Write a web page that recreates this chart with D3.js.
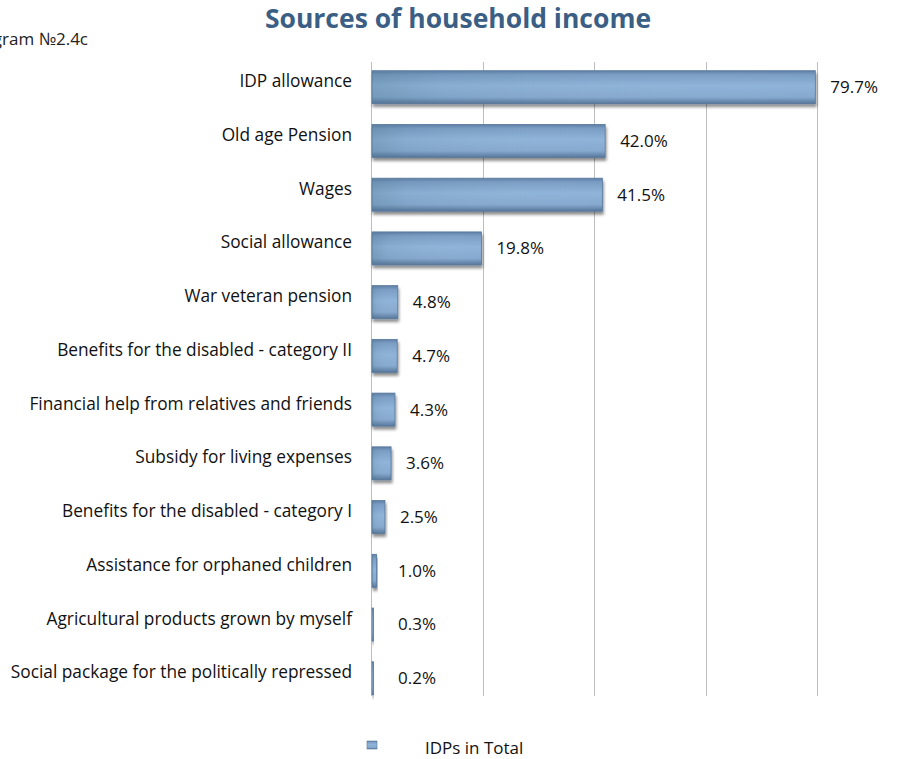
<!DOCTYPE html>
<html>
<head>
<meta charset="utf-8">
<script src="https://cdn.jsdelivr.net/npm/d3@7"></script>
<style>
  html, body { margin: 0; padding: 0; background: #fff; }
  svg { display: block; }
  text { font-family: "Open Sans", "Noto Sans", sans-serif; }
</style>
</head>
<body>
<svg id="chart" width="921" height="759"></svg>
<script>
// Sources of household income, share of IDP households (%)
const categories = [
  "IDP allowance",
  "Old age Pension",
  "Wages",
  "Social allowance",
  "War veteran pension",
  "Benefits for the disabled - category II",
  "Financial help from relatives and friends",
  "Subsidy for living expenses",
  "Benefits for the disabled - category I",
  "Assistance for orphaned children",
  "Agricultural products grown by myself",
  "Social package for the politically repressed"
];
const values = [79.7, 42.0, 41.5, 19.8, 4.8, 4.7, 4.3, 3.6, 2.5, 1.0, 0.3, 0.2];
const xTicks = [0, 20, 40, 60, 80];
const seriesName = "IDPs in Total";
const chartTitle = "Sources of household income";
const diagramTag = "Diagram №2.4c";

const svg = d3.select("#chart");
const plot = { left: 371, right: 817, top: 60.5, bottom: 705 };

const x = d3.scaleLinear().domain([0, 80]).range([plot.left, plot.right]);
const y = d3.scaleBand().domain(categories).range([plot.top, plot.bottom]).paddingInner(0.385).paddingOuter(0.19);

// Definitions: bar gradient, left-edge shading and soft shadow
const defs = svg.append("defs");
const grad = defs.append("linearGradient").attr("id", "barGrad").attr("x1", 0).attr("y1", 0).attr("x2", 0).attr("y2", 1);
[["0%", "#5d7ea4"], ["12%", "#7a9dc4"], ["45%", "#8fb3d9"], ["80%", "#86a9cf"], ["100%", "#557599"]]
  .forEach(([o, c]) => grad.append("stop").attr("offset", o).attr("stop-color", c));
const gradH = defs.append("linearGradient").attr("id", "barShade").attr("x1", 0).attr("y1", 0).attr("x2", 1).attr("y2", 0);
[["0%", "#3f6a7a", 0.25], ["15%", "#3f6a7a", 0.08], ["100%", "#ffffff", 0]]
  .forEach(([o, c, a]) => gradH.append("stop").attr("offset", o).attr("stop-color", c).attr("stop-opacity", a));
const shadow = defs.append("filter").attr("id", "shadow").attr("x", "-10%").attr("y", "-20%").attr("width", "130%").attr("height", "160%");
shadow.append("feGaussianBlur").attr("in", "SourceAlpha").attr("stdDeviation", 1.8).attr("result", "b");
shadow.append("feOffset").attr("in", "b").attr("dx", 1).attr("dy", 3).attr("result", "o");
shadow.append("feComponentTransfer").attr("in", "o").attr("result", "s")
  .append("feFuncA").attr("type", "linear").attr("slope", 0.45);
const merge = shadow.append("feMerge");
merge.append("feMergeNode").attr("in", "s");
merge.append("feMergeNode").attr("in", "SourceGraphic");

// Title and diagram tag (the tag runs off the left edge)
svg.append("text").attr("x", 458).attr("y", 28).attr("text-anchor", "middle")
  .attr("font-size", 26.5).attr("font-weight", 700).attr("fill", "#3b5f84").text(chartTitle);
svg.append("text").attr("x", 88).attr("y", 45).attr("text-anchor", "end")
  .attr("font-size", 17).attr("fill", "#222").text(diagramTag);

// Vertical gridlines (including the value axis at 0)
const gridTop = 62, gridBottom = 696;
svg.append("g").selectAll("line").data(xTicks).join("line")
  .attr("x1", d => Math.round(x(d)) + 0.5).attr("x2", d => Math.round(x(d)) + 0.5)
  .attr("y1", gridTop).attr("y2", gridBottom)
  .attr("stroke", "#bdbdbd").attr("stroke-width", 1);

// Bars
const bars = svg.append("g");
bars.selectAll("rect.bar").data(values).join("rect").attr("class", "bar")
  .attr("x", x(0) + 1).attr("y", (d, i) => y(categories[i]))
  .attr("width", d => Math.max(1.5, x(d) - x(0) - 1)).attr("height", y.bandwidth())
  .attr("fill", "url(#barGrad)").attr("stroke", "#58789c").attr("stroke-width", 0.8)
  .attr("filter", "url(#shadow)");
bars.selectAll("rect.shade").data(values).join("rect").attr("class", "shade")
  .attr("x", x(0) + 1).attr("y", (d, i) => y(categories[i]) + 1)
  .attr("width", d => Math.max(1, x(d) - x(0) - 1)).attr("height", y.bandwidth() - 2)
  .attr("fill", "url(#barShade)");

// Value labels
svg.append("g").selectAll("text").data(values).join("text")
  .attr("x", d => Math.max(x(d) + 15, x(0) + 27))
  .attr("y", (d, i) => y(categories[i]) + y.bandwidth() / 2)
  .attr("dy", "0.35em").attr("font-size", 17).attr("fill", "#111")
  .text(d => d.toFixed(1) + "%");

// Category labels
svg.append("g").selectAll("text").data(categories).join("text")
  .attr("x", 352).attr("y", d => y(d) + y.bandwidth() / 2 - 6)
  .attr("dy", "0.35em").attr("text-anchor", "end").attr("font-size", 17.3).attr("fill", "#111")
  .text(d => d);

// Legend
const lg = svg.append("g");
lg.append("rect").attr("x", 367).attr("y", 741).attr("width", 10).attr("height", 8)
  .attr("fill", "url(#barGrad)").attr("stroke", "#58789c").attr("stroke-width", 0.6);
lg.append("text").attr("x", 425).attr("y", 748).attr("dy", "0.35em").attr("font-size", 17).attr("fill", "#111").text(seriesName);
</script>
</body>
</html>
